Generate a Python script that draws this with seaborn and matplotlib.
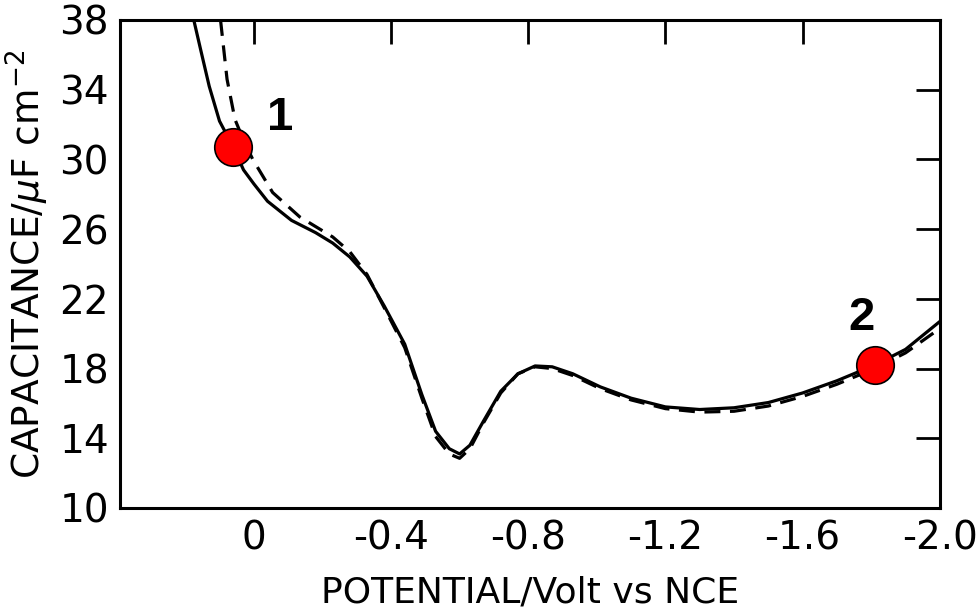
import seaborn as sns
import matplotlib.pyplot as plt

sns.set_style('white')
plt.rcParams['font.family'] = ['DejaVu Sans']
plt.rcParams['axes.unicode_minus'] = False
plt.rcParams['text.color'] = 'black'
plt.rcParams['axes.labelcolor'] = 'black'
plt.rcParams['xtick.color'] = 'black'
plt.rcParams['ytick.color'] = 'black'

# Data (potential in V, capacitance in uF cm-2)
solid_v = [0.175, 0.155, 0.13, 0.10, 0.06, 0.03, 0.0, -0.04, -0.11, -0.18, -0.23, -0.28,
           -0.33, -0.38, -0.44, -0.49, -0.53, -0.57, -0.60, -0.63, -0.67, -0.72, -0.77,
           -0.82, -0.87, -0.93, -1.01, -1.10, -1.20, -1.30, -1.40, -1.50, -1.60, -1.70,
           -1.81, -1.90, -2.00]
solid_c = [38.0, 36.3, 34.2, 32.2, 30.7, 29.4, 28.6, 27.6, 26.5, 25.8, 25.2, 24.4,
           23.3, 21.6, 19.4, 16.5, 14.4, 13.4, 13.1, 13.6, 15.0, 16.7, 17.7,
           18.15, 18.1, 17.7, 16.95, 16.3, 15.8, 15.65, 15.75, 16.05, 16.6, 17.3,
           18.2, 19.1, 20.7]

dash_v = [0.097, 0.078, 0.055, 0.03, 0.003, -0.055, -0.134, -0.23, -0.28, -0.33, -0.38,
          -0.44, -0.49, -0.53, -0.57, -0.60, -0.63, -0.67, -0.72, -0.77, -0.82, -0.87,
          -0.93, -1.01, -1.10, -1.20, -1.30, -1.40, -1.50, -1.60, -1.70, -1.81, -1.90,
          -2.00]
dash_c = [38.0, 34.6, 32.3, 31.1, 30.0, 28.1, 26.7, 25.55, 24.7, 23.4, 21.5,
          19.2, 16.3, 14.1, 13.1, 12.85, 13.4, 14.9, 16.6, 17.7, 18.1, 18.0,
          17.6, 16.85, 16.2, 15.7, 15.5, 15.55, 15.85, 16.4, 17.1, 18.0, 18.9,
          20.3]

point_v = [0.06, -1.81]
point_c = [30.7, 18.2]
point_lbl = ['1', '2']
lbl_v = [-0.076, -1.773]
lbl_c = [32.4, 20.9]

xticks = [0, -0.4, -0.8, -1.2, -1.6, -2.0]
xticklabels = ['0', '-0.4', '-0.8', '-1.2', '-1.6', '-2.0']
yticks = list(range(10, 39, 4))

fig = plt.figure(figsize=(9.79, 6.11), dpi=100)
ax = fig.add_axes([0.1226, 0.1686, 0.8374, 0.7987])

sns.lineplot(x=solid_v, y=solid_c, sort=False, estimator=None, color='black',
             lw=2.3, ax=ax)
sns.lineplot(x=dash_v, y=dash_c, sort=False, estimator=None, color='black',
             lw=2.3, ls=(0, (5, 3)), ax=ax)
ax.plot(point_v, point_c, 'o', ms=27, mfc='#ff0000', mec='black', mew=1.2, zorder=5)
for v, c, t in zip(lbl_v, lbl_c, point_lbl):
    ax.text(v, c, t, fontsize=34, fontweight='bold', ha='center', va='center',
            color='black', family=['Liberation Sans', 'DejaVu Sans'])

ax.set_xlim(0.39, -2.0)
ax.set_ylim(10, 38)
ax.set_xticks(xticks)
ax.set_xticklabels(xticklabels)
ax.set_yticks(yticks)
ax.tick_params(direction='in', length=17, width=2, labelsize=28, top=True, right=True,
               pad=8)
for s in ax.spines.values():
    s.set_linewidth(2.2)
    s.set_color('black')

ax.set_xlabel('POTENTIAL/Volt vs NCE', fontsize=26, labelpad=13)
ax.set_ylabel(r'CAPACITANCE/$\mu$F cm$^{-2}$', fontsize=27, labelpad=6)

fig.savefig('out.png', dpi=100)
